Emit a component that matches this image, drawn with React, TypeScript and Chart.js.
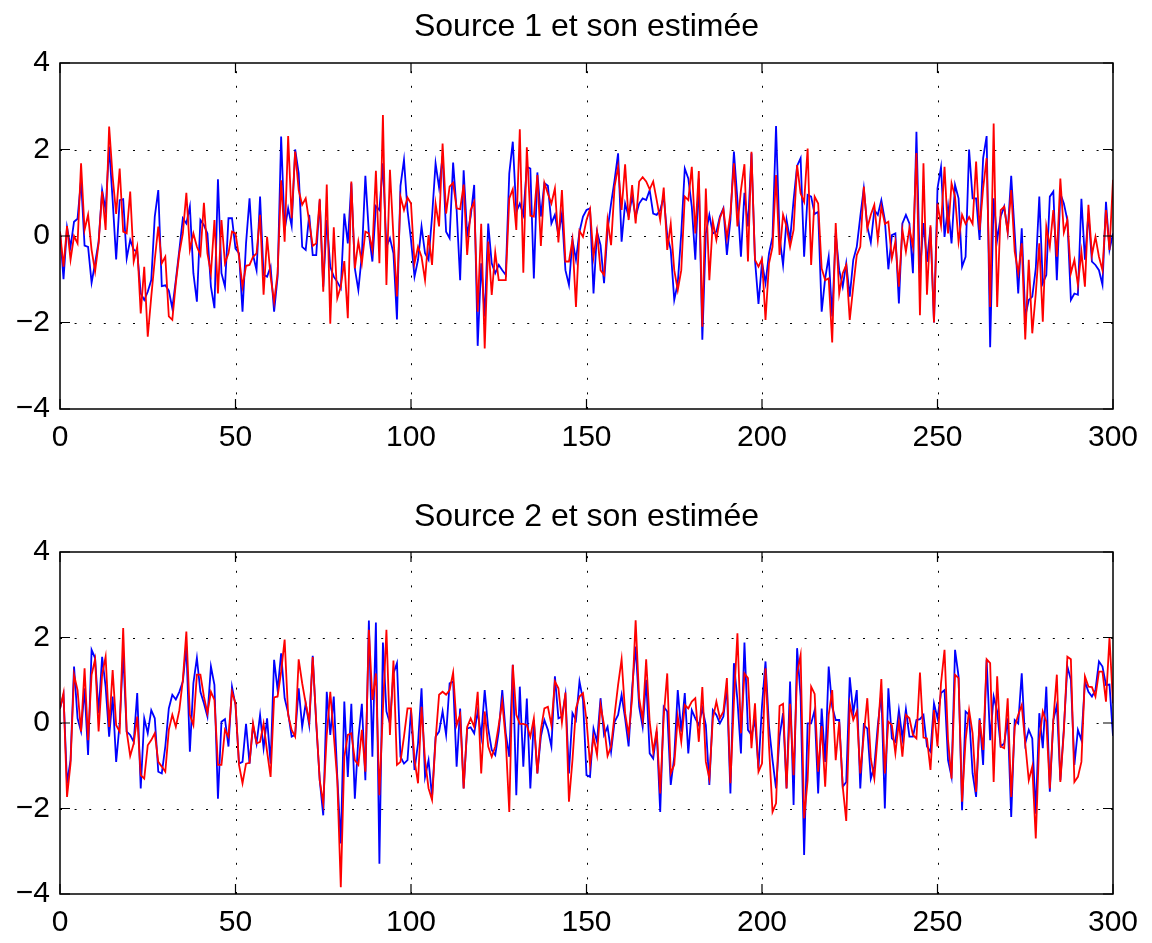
import React, { useEffect, useRef } from 'react';
import { Chart, registerables } from 'chart.js';

Chart.register(...registerables);

// ---------- data ----------
const sampleIndex: number[] = Array.from({ length: 301 }, (_, i) => i);
const xTickValues = [0, 50, 100, 150, 200, 250, 300];
const yTickValues = [-4, -2, 0, 2, 4];

const titles = ['Source 1 et son estimée', 'Source 2 et son estimée'];

// Source 1 (blue)
const source1 = [
  0.1, -1.0, 0.2, -0.25, 0.33, 0.4, 1.3, -0.22, -0.25, -1.08, -0.63, -0.13, 1.06, 0.6, 2.07, 0.83, -0.54, 0.83, 0.85, -0.52,
  -0.09, -0.32, -0.36, -1.33, -1.48, -1.29, -1.02, 0.45, 1.06, -1.16, -1.14, -1.26, -1.67, -1.02, -0.32, 0.41, 0.29, 0.68, -0.86, -1.52,
  0.37, 0.25, 0.06, -1.17, -1.67, 1.31, -0.86, -1.17, 0.41, 0.41, -0.29,
  -0.4, -1.75, -0.17, 0.87, -0.44, -0.79, 0.91, -0.9, -0.94, -0.71, -1.75, -0.94, 2.3, 0.14, 0.64, 0.23, 2.0, 1.45, -0.25, -0.32,
  0.49, -0.44, -0.44, 0.83, -1.17, 0.37, -0.71, -0.94, -1.06, -1.21, 0.52, -0.17, 1.22, -0.75, -1.25, -0.44, 1.39, 0.06, -0.59, 0.69,
  0.6, 1.68, -0.25, -0.05, -0.4, -1.93, 1.16, 1.76, 0.6, -0.09,
  -0.94, -0.55, 0.22, -0.4, -0.55, 0.45, 1.68, 1.12, 1.85, 0.1, -0.05, 1.7, 0.6, -1.02, 1.52, 0.02, 0.45, 1.18, -2.54, -0.63,
  -1.86, 0.29, -0.63, -0.86, -0.67, -0.79, -0.9, 1.45, 2.18, 0.56, 0.75, 0.49, 1.6, 1.56, -0.98, 1.47, 0.45, 1.22, 1.16, 0.29,
  0.49, 0.02, 0.52, -0.79, -1.13, -0.09, -0.55, 0.1, 0.45, 0.6,
  0.64, -1.33, 0.1, -0.21, -1.09, 0.14, 0.75, 1.29, 1.91, -0.13, 0.75, 0.45, 0.91, 0.45, 0.75, 0.87, 0.83, 1.06, 0.52, 0.49,
  0.6, 0.91, 0.02, -0.32, -1.48, -1.09, 0.06, 1.56, 1.33, 0.68, -0.55, 1.33, -2.4, 0.06, 0.49, 0.06, 0.1, 0.45, 0.64, -0.44,
  0.37, 1.95, 0.83, -0.48, 1.0, 0.22, 1.91, -0.55, -1.57, -0.6,
  -1.09, -0.4, -0.02, 2.54, -0.02, -0.67, 0.37, -0.09, 0.83, 1.62, 1.8, -0.48, 0.95, 0.91, 0.51, 0.56, -1.75, -0.98, -0.48, -1.86,
  0.06, -0.79, -1.17, -0.63, -1.4, -0.55, -0.25, 0.45, 1.1, 0.22, -0.15, 0.6, 0.49, 0.83, 0.37, -0.77, 0.02, 0.06, -1.56, 0.29,
  0.49, 0.29, -0.86, 2.41, -0.86, 0.3, -0.6, 0.2, -2.0, 1.1,
  1.59, -0.02, 0.68, -0.17, 1.18, 0.87, -0.71, -0.48, 2.0, 0.87, 0.87, -0.09, 1.8, 2.31, -2.57, 0.87, -0.09, 0.45, 0.68, 0.1,
  1.39, 0.06, -1.33, 0.18, -1.86, -1.48, -1.4, -0.75, 0.91, -1.09, -0.9, 0.91, 1.03, -1.02, 0.98, 0.75, 0.37, -1.48, -1.33, -1.36,
  0.86, -0.55, 0.52, -0.59, -0.67, -0.79, -1.13, 0.79, -0.32, 0.06,
];

// Estimate of source 1 (red)
const estimate1 = [
  0.1, -0.71, 0.23, -0.55, 0, -0.17, 1.68, 0.14, 0.49, -0.32, -0.82, -0.17, 1.03, 0.14, 2.53, 1.37, 0.51, 1.56, 0.1, 0.06,
  1.03, -0.59, -0.25, -1.79, -0.71, -2.33, -1.4, -0.55, 0.22, -0.63, -0.48, -1.86, -1.94, -1.09, -0.4, 0.06, 1.0, -0.32, 0.06, -0.25,
  -0.44, 0.77, -0.4, -0.86, 0.37, -1.33, 0.37, -0.63, -0.4, 0.1, 0.06,
  -0.48, -1.17, -0.69, -0.67, -0.48, -0.4, 0.49, -1.36, -0.02, -0.94, -1.52, -0.86, 1.29, -0.13, 2.31, 0.41, 1.95, 1.06, 0.72, 0.87,
  0.33, -0.23, -0.17, 0.86, -1.29, 1.19, -2.03, 0.2, -1.44, -1.17, -0.58, -1.9, 1.26, -0.75, -0.13, -0.63, 0.1, 0.06, -0.32, 1.51,
  -0.63, 2.8, -1.13, 1.53, -0.02, -1.4, 0.91, 0.6, 0.89, 0.75,
  -0.63, -0.25, -0.48, -1.02, 0.02, -0.67, 0.75, 0.22, 2.14, 0.52, 1.14, 1.23, 0.64, 0.62, 1.19, -0.44, 0.6, 0.79, -1.75, 0.28,
  -2.6, -0.13, -1.36, -0.38, -1.02, -1.02, -1.02, 0.87, 1.08, 0.14, 2.47, -0.85, 2.05, 0.47, 0.45, 1.41, -0.23, 1.23, 0.98, 0.75,
  1.1, -0.15, 1.06, -0.59, -0.59, -0.09, -1.64, 0.12, -0.02, 0.37,
  0.62, -0.48, 0.1, -0.79, -0.9, 0.37, -0.21, 1.14, 1.6, 0.6, 1.66, 0.37, 1.18, 0.29, 1.26, 1.36, 1.26, 1.08, 1.26, 0.83,
  0.37, 1.12, -0.32, 0.28, -0.79, -1.25, -0.79, 0.91, 0.83, 1.6, 0.06, 1.5, -2.1, 1.1, -1.02, 0.33, -0.09, 0.41, 0.62, -0.05,
  0.52, 1.68, 0.22, 1.06, 1.66, -0.59, 1.95, -0.55, -0.71, -0.53,
  -1.94, -0.63, -0.25, 1.41, -0.44, 0.49, 0.22, -0.25, 0.14, 1.64, 0.98, 0.79, 2.02, -0.67, 0.91, 0.75, -0.75, -1.02, -0.98, -2.46,
  0.3, -1.33, -0.86, -0.67, -1.94, -1.17, -0.44, -0.25, 1.14, 0.18, 0.49, 0.72, -0.09, 0.68, 0.28, 0.33, -0.52, -0.13, -1.17, 0.14,
  -0.36, 0.18, -0.25, 1.92, -1.83, 1.68, -1.36, 0.25, -2.0, 0.75,
  0.25, 1.6, 0.06, 1.22, 0.91, -0.13, 0.49, 0.28, 0.44, 0.28, 1.72, 0.14, 1.1, 1.8, -1.64, 2.6, -1.64, 0.6, 0.68, 0.08,
  1.06, -0.36, -0.86, -0.17, -2.39, -0.55, -2.25, -1.33, -0.17, -1.98, 0.22, -0.25, 0.6, -0.48, 1.33, 0.08, 0.37, -0.86, -0.55, -1.13,
  -0.36, -1.17, 0.72, -0.44, -0.02, -0.48, -0.79, 0.6, -0.32, 1.3,
];

// Source 2 (blue)
const source2 = [
  0.34, 0.66, -1.41, -0.87, 1.32, 0.11, -0.2, 0.81, -0.75, 1.71, 1.52, 0.23, 1.55, 0.85, -0.32, 0.62, -0.91, -0.01, 1.63, -0.2,
  -0.28, -0.44, 0.7, -1.53, 0.11, -0.24, 0.3, 0.11, -1.14, -1.18, -0.55, 0.34, 0.66, 0.55, 0.73, 0.97, 1.79, -0.67, 0.93, 1.52,
  0.73, 0.46, 0.15, 1.32, 0.89, -1.77, 0.03, 0.09, -0.55, 0.85, 0.42,
  -0.95, -0.91, -0.02, -0.95, -0.05, -0.48, 0.19, -0.59, 0.11, -0.95, 1.48, 0.77, 1.63, 0.58, 0.23, -0.32, -0.28, 0.81, -0.09, 0.46,
  -0.05, 1.57, -0.01, -1.34, -2.16, 0.73, -0.28, 0.62, -1.26, -2.82, 0.5, -1.26, 0.45, -1.77, -0.36, 0.45, -1.34, 2.4, -0.79, 2.35,
  -3.29, 1.88, 0.27, -0.01, 1.16, 1.4, -0.79, -0.95, -0.87, 0.3,
  -1.1, -0.48, 0.81, -1.26, -0.87, -1.73, -0.32, -0.2, 0.27, -0.28, 0.93, 0.97, -1.02, 0.34, -1.53, -0.13, -0.1, -0.24, 0.27, -0.32,
  0.77, -0.13, -0.63, -0.75, -0.2, 0.77, -0.24, -0.79, 1.36, -1.69, 0.85, -1.02, 0.57, -1.53, 0.07, -1.18, -0.32, 0.07, -0.16, -0.55,
  1.09, 0.11, 0.15, 0.66, -1.18, 0.23, 0.07, 0.97, 0.54, -1.22,
  -1.26, -0.13, -0.44, 0.58, -0.28, -0.09, -0.67, 0.03, 0.19, 0.66, 0.11, -0.55, 0.81, 1.79, 0.38, -0.09, 1.01, -0.71, -0.83, -0.2,
  -2.08, 0.38, 0.27, -1.45, -0.79, 0.77, -0.2, 0.7, -0.71, 0.3, 0.11, -0.05, 0.34, -0.05, -1.45, 0.3, 0.19, -0.01, 0.15, 0.85,
  -1.65, 1.4, 0.54, -0.71, 1.88, -0.16, -0.28, 0.07, -1.06, 0.4,
  1.44, -0.09, -0.87, -1.53, -0.32, 0.23, -1.53, 0.97, -1.92, 1.75, 0.62, -3.09, -0.01, -0.01, 0.3, -1.65, 0.34, -0.91, 1.32, 0.38,
  0.07, 0.07, -1.49, -1.38, 1.07, 0.23, 0.77, -1.53, -0.05, -0.13, -1.3, -1.02, -0.05, 0.7, -2.0, 0.81, -0.36, -0.44, 0.3, -0.36,
  0.32, -0.32, -0.32, 0.07, 0.09, 0.19, -0.55, -0.67, 0.46, 0.11,
  0.7, 0.77, -0.87, -1.26, 1.71, 1.09, -2.04, 0.27, 0.19, -1.18, -1.73, 0.11, -0.98, 1.48, -0.4, 0.62, 0.27, -0.55, -0.48, 0.11,
  -2.2, 0.07, -0.01, 1.16, -0.48, -0.16, -0.36, -2.12, 0.23, -0.59, 0.85, -1.61, 0.07, 0.42, -1.34, -0.13, 1.32, 1.01, -0.98, -0.16,
  -0.4, 0.97, 0.73, 0.62, 0.77, 1.44, 1.32, 0.89, 0.9, -0.3,
];

// Estimate of source 2 (red)
const estimate2 = [
  0.34, 0.7, -1.73, -0.95, 1.13, 0.77, -0.2, 1.28, -0.4, 1.13, 1.49, -0.2, 1.13, 1.55, -0.09, 1.24, -0.05, -0.2, 2.22, -0.2,
  -0.77, -0.48, 0.15, -1.22, -1.3, -0.52, -0.4, -0.24, -0.91, -1.02, -1.14, -0.16, 0.19, -0.09, 0.3, 1.01, 2.14, 0.19, -0.05, 1.13,
  1.13, 0.62, 0.23, 0.73, 0.54, -0.98, -0.98, -0.16, -0.32, 0.73, 0.46,
  -0.98, -1.41, -0.95, -0.93, -0.01, -0.48, -0.44, -0.01, -0.67, -1.26, 0.6, 0.62, 1.2, 1.95, 0.19, -0.16, -0.32, 1.49, 0.93, 0.46,
  0.03, 1.54, 0.03, -1.34, -1.88, -0.28, 0.73, -0.28, -1.34, -3.84, -0.79, -0.28, -0.24, -0.87, -0.98, -0.16, -1.14, 2.18, 0.54, 1.16,
  -1.69, 0.3, 2.18, -0.28, 1.46, -0.98, -0.91, -0.32, 0.34, 0.34,
  -0.87, -1.41, 0.38, -0.87, -1.53, -1.8, -0.4, 0.66, 0.73, 0.66, 0.77, 1.18, -0.05, 0.19, -1.53, -0.09, 0.11, -0.09, 0.73, -1.18,
  0.27, -0.55, -0.79, -0.55, -0.05, 0.5, -0.4, -2.08, 1.36, 0.19, -0.02, -0.02, -0.05, -0.32, 0.11, -1.18, -0.16, 0.34, 0.38, -0.05,
  0.97, 0.81, 0.01, 0.71, -1.84, -0.87, 0.34, 0.62, 0.7, 0.07,
  -0.98, -0.32, -0.75, 0.42, -0.05, -0.77, -0.55, 0.19, 0.89, 1.49, 0.23, -0.28, 0.58, 2.4, 0.58, 0.07, 1.49, 0.03, -0.67, -0.16,
  -1.65, 0.15, 1.16, -1.18, -0.98, 0.15, -0.44, 0.42, 0.34, 0.5, 0.58, -0.44, 0.84, -0.91, -1.3, 0.11, 0.5, 0.11, 0.27, 1.05,
  -1.41, 0.5, 2.1, -0.24, 1.16, 1.05, -0.59, 0.46, -1.14, -0.95,
  1.28, -0.55, -2.08, -1.88, 0.4, 0.45, -1.53, 0.45, -1.22, 1.16, 1.59, -2.23, -1.34, 0.85, 0.68, -1.14, -0.07, -1.49, 0.19, 0.77,
  -0.87, 0.03, -1.49, -2.29, 0.45, 0.07, 0.27, -1.18, -0.28, 0.58, -0.83, -1.3, -0.24, 1.03, -1.18, 0.03, -0.05, -0.71, 0.03, -0.79,
  0.19, 0.11, -0.28, -0.36, 1.18, -0.34, -0.36, -1.1, 0.3, -0.55,
  0.93, 1.71, -0.4, -1.3, 1.13, 1.05, -1.84, -0.4, 0.3, -0.24, -1.61, 0.07, -0.63, 1.49, 1.4, -1.38, 1.09, -0.55, -0.59, 0.58,
  -1.73, -0.09, 0.19, 0.42, -0.48, -1.34, -1.02, -2.7, -0.4, 0.27, 0.03, -1.53, 0.07, 1.13, -1.38, -0.2, 1.55, 1.49, -1.38, -1.26,
  -0.91, 1.09, 0.85, 0.84, 0.62, 1.2, 1.2, 0.5, 2.0, 0.46,
];

// ---------- chart helpers ----------
const FONT = "'Liberation Sans', Arial, Helvetica, sans-serif";
const TICK_FONT_SIZE = 30;
const TITLE_FONT_SIZE = 32;

const matlabAxes = {
  id: 'matlabAxes',
  beforeDatasetsDraw(chart: any) {
    const { ctx, chartArea: a, scales } = chart;
    const xs = scales.x;
    const ys = scales.y;
    ctx.save();
    ctx.strokeStyle = '#000';
    ctx.lineWidth = 1;
    ctx.setLineDash([2, 12.6]);
    xTickValues.slice(1, -1).forEach((v) => {
      const px = Math.round(xs.getPixelForValue(v)) + 0.5;
      ctx.beginPath();
      ctx.moveTo(px, a.bottom);
      ctx.lineTo(px, a.top);
      ctx.stroke();
    });
    yTickValues.slice(1, -1).forEach((v) => {
      const py = Math.round(ys.getPixelForValue(v)) + 0.5;
      ctx.beginPath();
      ctx.moveTo(a.left, py);
      ctx.lineTo(a.right, py);
      ctx.stroke();
    });
    ctx.restore();
  },
  afterDatasetsDraw(chart: any) {
    const { ctx, chartArea: a, scales } = chart;
    const xs = scales.x;
    const ys = scales.y;
    const tick = 10;
    ctx.save();
    ctx.strokeStyle = '#000';
    ctx.lineWidth = 1.5;
    ctx.setLineDash([]);
    ctx.strokeRect(a.left, a.top, a.right - a.left, a.bottom - a.top);
    ctx.lineWidth = 1.2;
    xTickValues.forEach((v) => {
      const px = xs.getPixelForValue(v);
      ctx.beginPath();
      ctx.moveTo(px, a.bottom);
      ctx.lineTo(px, a.bottom - tick);
      ctx.moveTo(px, a.top);
      ctx.lineTo(px, a.top + tick);
      ctx.stroke();
    });
    yTickValues.forEach((v) => {
      const py = ys.getPixelForValue(v);
      ctx.beginPath();
      ctx.moveTo(a.left, py);
      ctx.lineTo(a.left + tick, py);
      ctx.moveTo(a.right, py);
      ctx.lineTo(a.right - tick, py);
      ctx.stroke();
    });
    // title centred over the plot area
    const title = chart.options.plugins.panelTitle;
    if (title && title.text) {
      ctx.fillStyle = '#000';
      ctx.font = `normal ${TITLE_FONT_SIZE}px ${FONT}`;
      ctx.textAlign = 'center';
      ctx.textBaseline = 'middle';
      ctx.fillText(title.text, (a.left + a.right) / 2, title.y);
    }
    ctx.restore();
  },
};

function makeConfig(
  title: string,
  truth: number[],
  estimate: number[],
  titleY: number,
  topPad: number,
  xAxisHeight: number
): any {
  return {
    type: 'line',
    data: {
      datasets: [
        {
          label: 'estimée',
          data: estimate.map((y, i) => ({ x: sampleIndex[i], y })),
          borderColor: '#ff0000',
          borderWidth: 1.8,
          pointRadius: 0,
          tension: 0,
          fill: false,
        },
        {
          label: 'source',
          data: truth.map((y, i) => ({ x: sampleIndex[i], y })),
          borderColor: '#0000ff',
          borderWidth: 1.8,
          pointRadius: 0,
          tension: 0,
          fill: false,
        },
      ],
    },
    options: {
      responsive: false,
      animation: false,
      devicePixelRatio: 1,
      layout: { padding: { left: 0, right: 39, top: topPad, bottom: 0 } },
      plugins: {
        legend: { display: false },
        tooltip: { enabled: false },
        title: { display: false },
        panelTitle: { text: title, y: titleY },
      },
      scales: {
        x: {
          type: 'linear',
          min: 0,
          max: 300,
          grid: { display: false, drawTicks: false },
          border: { display: false },
          afterBuildTicks: (s: any) => {
            s.ticks = xTickValues.map((v) => ({ value: v }));
          },
          afterFit: (s: any) => {
            s.height = xAxisHeight;
          },
          ticks: {
            color: '#000',
            font: { family: FONT, size: TICK_FONT_SIZE },
            padding: 11,
            maxRotation: 0,
            autoSkip: false,
          },
        },
        y: {
          type: 'linear',
          min: -4,
          max: 4,
          grid: { display: false, drawTicks: false },
          border: { display: false },
          afterBuildTicks: (s: any) => {
            s.ticks = yTickValues.map((v) => ({ value: v }));
          },
          afterFit: (s: any) => {
            s.width = 60;
          },
          ticks: {
            color: '#000',
            font: { family: FONT, size: TICK_FONT_SIZE },
            padding: 10,
            callback: (v: any) => String(v).replace('-', '\u2212'),
          },
        },
      },
    },
    plugins: [matlabAxes],
  };
}

function Panel(props: {
  title: string;
  truth: number[];
  estimate: number[];
  top: number;
  height: number;
  titleY: number;
  topPad: number;
  xAxisHeight: number;
}) {
  const ref = useRef<HTMLCanvasElement | null>(null);
  useEffect(() => {
    if (!ref.current) return;
    const chart = new Chart(
      ref.current,
      makeConfig(props.title, props.truth, props.estimate, props.titleY, props.topPad, props.xAxisHeight)
    );
    return () => chart.destroy();
  }, []);
  return (
    <canvas
      ref={ref}
      width={1152}
      height={props.height}
      style={{ position: 'absolute', left: 0, top: props.top, width: 1152, height: props.height }}
    />
  );
}

export default function App() {
  return (
    <div style={{ position: 'absolute', left: 0, top: 0, width: 1152, height: 943, background: '#fff' }}>
      <Panel
        title={titles[0]}
        truth={source1}
        estimate={estimate1}
        top={0}
        height={470}
        titleY={27}
        topPad={63}
        xAxisHeight={61}
      />
      <Panel
        title={titles[1]}
        truth={source2}
        estimate={estimate2}
        top={470}
        height={473}
        titleY={47}
        topPad={82}
        xAxisHeight={49}
      />
    </div>
  );
}
